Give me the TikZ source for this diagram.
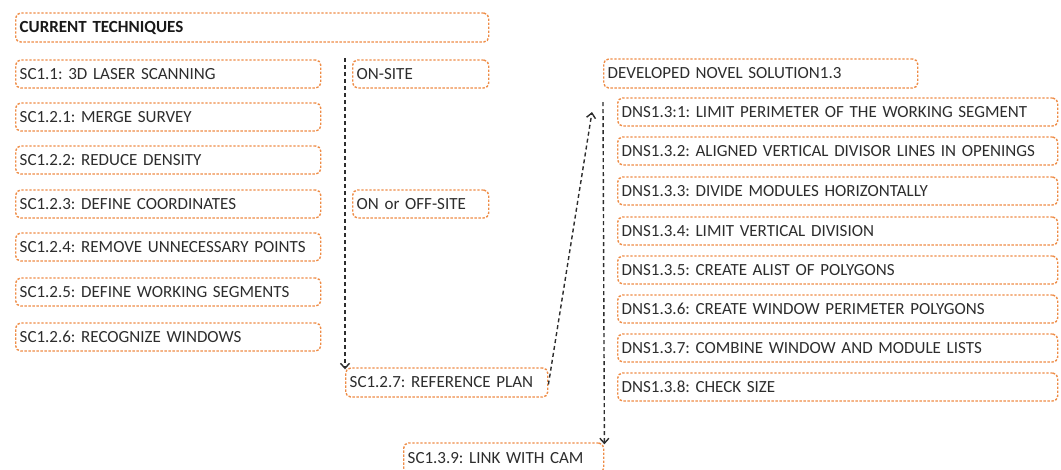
\documentclass[tikz,border=0pt]{standalone}
\usepackage{fontspec}
\setmainfont{Carlito}
\usetikzlibrary{arrows.meta}
\definecolor{boxorange}{RGB}{238,140,70}
\definecolor{txtgray}{RGB}{45,45,45}
\tikzset{
  tbox/.style={draw=boxorange, dashed, dash pattern=on 2.4pt off 1.6pt, line width=1.4pt, rounded corners=5pt,
    minimum height=28pt, inner xsep=4pt, inner ysep=0pt, anchor=west, align=left,
    text=txtgray, font=\fontsize{17}{19}\selectfont, text width=#1},
  flow/.style={draw=txtgray, dashed, dash pattern=on 4pt off 3pt, line width=1.4pt, -{Straight Barb[length=5pt,width=9pt]}}
}
\begin{document}
\frenchspacing
\begin{tikzpicture}[x=1pt,y=-1pt]
\useasboundingbox (0,0) rectangle (1061,469);
\clip (0,0) rectangle (1061,469);
% left column
\node[tbox=465pt, minimum height=29pt, font=\fontsize{17}{19}\selectfont\bfseries, text=black!90] (ct) at (15,27.5) {CURRENT TECHNIQUES};
\node[tbox=297pt] (s11) at (15,74) {SC1.1: 3D LASER SCANNING};
\node[tbox=297pt] (s121) at (15,117) {SC1.2.1: MERGE SURVEY};
\node[tbox=297pt] (s122) at (15,160) {SC1.2.2: REDUCE DENSITY};
\node[tbox=297pt] (s123) at (15,204) {SC1.2.3: DEFINE COORDINATES};
\node[tbox=297pt] (s124) at (15,247) {SC1.2.4: REMOVE UNNECESSARY POINTS};
\node[tbox=297pt] (s125) at (15,292) {SC1.2.5: DEFINE WORKING SEGMENTS};
\node[tbox=297pt] (s126) at (15,337) {SC1.2.6: RECOGNIZE WINDOWS};
% middle column
\node[tbox=128pt] (on) at (352,74) {ON-SITE};
\node[tbox=128pt] (onoff) at (352,204) {ON or OFF-SITE};
\node[tbox=194pt, minimum height=29pt] (ref) at (345,382.5) {SC1.2.7: REFERENCE PLAN};
\node[tbox=192pt, minimum height=30pt] (link) at (403,458) {SC1.3.9: LINK WITH CAM};
% right column
\node[tbox=306pt, minimum height=29pt] (dns) at (603,73.5) {DEVELOPED NOVEL SOLUTION1.3};
\node[tbox=432pt] (d1) at (617,112) {DNS1.3:1: LIMIT PERIMETER OF THE WORKING SEGMENT};
\node[tbox=432pt] (d2) at (617,151) {DNS1.3.2: ALIGNED VERTICAL DIVISOR LINES IN OPENINGS};
\node[tbox=432pt] (d3) at (617,191) {DNS1.3.3: DIVIDE MODULES HORIZONTALLY};
\node[tbox=432pt] (d4) at (617,231) {DNS1.3.4: LIMIT VERTICAL DIVISION};
\node[tbox=432pt] (d5) at (617,270) {DNS1.3.5: CREATE ALIST OF POLYGONS};
\node[tbox=432pt] (d6) at (617,309) {DNS1.3.6: CREATE WINDOW PERIMETER POLYGONS};
\node[tbox=432pt] (d7) at (617,348) {DNS1.3.7: COMBINE WINDOW AND MODULE LISTS};
\node[tbox=432pt] (d8) at (617,387) {DNS1.3.8: CHECK SIZE};
% connectors
\coordinate (a1) at (345,58);
\coordinate (a2) at (592,112);
\coordinate (a3) at (603,102);
\draw[flow] (a1) -- ([yshift=-2pt]ref.north west);
\draw[flow] ([yshift=-2pt]ref.east) -- (a2);
\draw[flow] (a3) -- ([yshift=-2pt]link.north east);
\end{tikzpicture}
\end{document}
